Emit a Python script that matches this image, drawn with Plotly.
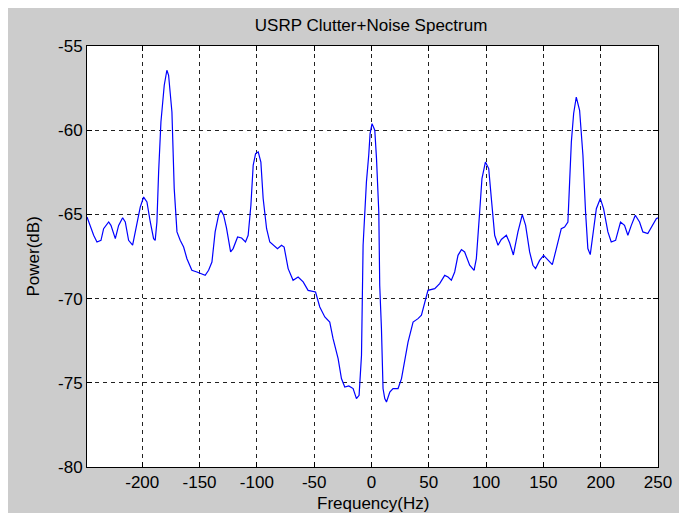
import plotly.graph_objects as go

# Clutter + noise power spectrum (frequency in Hz, power in dB)
freq_hz = [
    -248.2, -242.4, -239.5, -236.0, -233.7, -229.3, -227.3, -223.5, -220.6, -217.1,
    -214.8, -211.9, -208.4, -204.6, -201.7, -198.8, -195.9, -193.0, -190.1, -188.7,
    -187.2, -185.7, -183.7, -180.8, -178.5, -177.0, -174.1, -172.1, -169.7, -166.9,
    -163.9, -161.0, -156.7, -152.3, -148.0, -145.1, -142.1, -139.2, -136.4, -133.4,
    -131.4, -129.0, -126.5, -122.9, -120.7, -116.8, -113.3, -109.9, -107.6, -105.2,
    -103.2, -101.1, -98.8, -96.5, -94.5, -91.5, -88.7, -85.8, -82.0, -78.5,
    -76.2, -72.7, -68.4, -64.0, -59.6, -55.3, -51.8, -48.8, -45.1, -40.7,
    -36.4, -33.5, -29.1, -26.2, -23.3, -19.8, -16.0, -13.1, -10.8, -8.7,
    -7.3, -4.4, -2.4, -1.2, 0.5, 2.9, 4.4, 6.4, 7.2, 8.7,
    10.1, 11.6, 13.1, 16.0, 18.8, 23.2, 26.2, 29.0, 31.9, 36.3,
    40.6, 43.6, 46.5, 49.3, 55.2, 59.5, 63.9, 66.8, 69.7, 72.6,
    75.5, 78.5, 81.3, 85.7, 89.5, 91.5, 94.4, 96.4, 99.4, 102.3,
    104.6, 107.5, 110.4, 113.3, 117.7, 120.6, 123.8, 127.8, 131.6, 134.5,
    138.0, 140.9, 143.2, 146.7, 150.2, 154.0, 157.8, 161.3, 165.6, 168.5,
    171.4, 172.9, 174.4, 176.4, 178.7, 181.6, 184.5, 186.8, 188.8, 190.9,
    193.2, 196.2, 199.7, 202.5, 206.3, 209.2, 213.0, 217.3, 220.8, 223.7,
    226.7, 230.2, 233.9, 236.8, 241.1, 245.5, 248.5, 250.0,
]

power_db = [
    -65.15, -66.24, -66.64, -66.54, -65.85, -65.45, -65.65, -66.44, -65.65, -65.20,
    -65.45, -66.54, -66.83, -65.45, -64.56, -63.97, -64.26, -65.45, -66.44, -66.54,
    -65.45, -62.48, -59.51, -57.33, -56.44, -56.74, -58.92, -63.47, -66.04, -66.54,
    -66.94, -67.63, -68.32, -68.42, -68.52, -68.62, -68.32, -67.83, -66.04, -65.05,
    -64.76, -65.05, -65.80, -67.23, -67.03, -66.34, -66.40, -66.64, -66.24, -64.46,
    -62.08, -61.39, -61.29, -61.89, -64.06, -65.85, -66.64, -66.83, -67.03, -66.83,
    -66.94, -68.22, -68.91, -68.72, -69.01, -69.51, -69.57, -69.61, -70.50, -71.09,
    -71.39, -72.38, -73.56, -74.75, -75.25, -75.19, -75.34, -75.94, -75.74, -73.37,
    -66.83, -63.07, -61.49, -60.20, -59.61, -60.00, -61.69, -64.86, -69.21, -71.78,
    -75.34, -75.94, -76.14, -75.55, -75.34, -75.34, -74.75, -73.56, -72.58, -71.39,
    -71.19, -70.99, -70.30, -69.51, -69.41, -69.11, -68.62, -68.72, -68.91, -68.42,
    -67.43, -67.09, -67.23, -68.02, -68.32, -67.63, -64.86, -62.87, -61.89, -62.28,
    -64.06, -66.24, -66.83, -66.49, -66.24, -66.70, -67.41, -66.04, -65.01, -65.65,
    -67.23, -68.02, -68.22, -67.73, -67.43, -67.73, -67.98, -67.03, -65.85, -65.75,
    -65.45, -63.07, -60.70, -59.01, -58.03, -58.82, -61.49, -64.86, -67.03, -67.39,
    -66.24, -64.66, -64.06, -64.66, -66.04, -66.64, -66.54, -65.45, -65.65, -66.24,
    -65.65, -65.05, -65.45, -66.04, -66.14, -65.65, -65.25, -65.20,
]

x_ticks = [-200, -150, -100, -50, 0, 50, 100, 150, 200, 250]
y_ticks = [-80, -75, -70, -65, -60, -55]

FONT = "Liberation Sans Narrow, Arial Narrow, Liberation Sans, Arial, sans-serif"
FIG_BG = "#cccccc"

fig = go.Figure()
fig.add_trace(go.Scatter(
    x=freq_hz, y=power_db, mode="lines",
    line=dict(color="#0000ff", width=1.2),
    showlegend=False, hoverinfo="x+y",
))

axis_common = dict(
    showline=True, linecolor="black", linewidth=1, mirror="ticks",
    ticks="inside", ticklen=5, tickcolor="black",
    showgrid=True, gridcolor="#222222", griddash="4px,4px", gridwidth=1,
    zeroline=False, tickfont=dict(family=FONT, size=17, color="black"),
)

fig.update_xaxes(range=[-248.2, 250], tickvals=x_ticks,
                 ticktext=[str(v) for v in x_ticks], **axis_common)
fig.update_yaxes(range=[-80, -55], tickvals=y_ticks,
                 ticktext=[str(v) for v in y_ticks], **axis_common)

fig.update_layout(
    width=679, height=513,
    margin=dict(l=87, r=21, t=46, b=46, autoexpand=False),
    paper_bgcolor=FIG_BG, plot_bgcolor="white",
    title=dict(text="USRP Clutter+Noise Spectrum", x=0.5465, xanchor="center",
               y=1 - 25 / 513, yanchor="middle", yref="container",
               font=dict(family=FONT, size=17, color="black")),
    annotations=[
        dict(text="Frequency(Hz)", xref="paper", yref="paper", x=0.5, y=-36 / 421,
             xanchor="center", yanchor="middle", showarrow=False,
             font=dict(family=FONT, size=17, color="black")),
        dict(text="Power(dB)", xref="paper", yref="paper", x=(33 - 87) / 571, y=0.5,
             xanchor="center", yanchor="middle", textangle=-90, showarrow=False,
             font=dict(family=FONT, size=17, color="black")),
    ],
    shapes=[
        # thin white border along the top and left edges of the figure
        dict(type="rect", xref="paper", yref="paper", layer="below",
             x0=-87 / 571, x1=-79 / 571, y0=-46 / 421, y1=467 / 421,
             fillcolor="white", line=dict(width=0)),
        dict(type="rect", xref="paper", yref="paper", layer="below",
             x0=-87 / 571, x1=592 / 571, y0=459 / 421, y1=467 / 421,
             fillcolor="white", line=dict(width=0)),
    ],
)

fig.write_html("out.html")
